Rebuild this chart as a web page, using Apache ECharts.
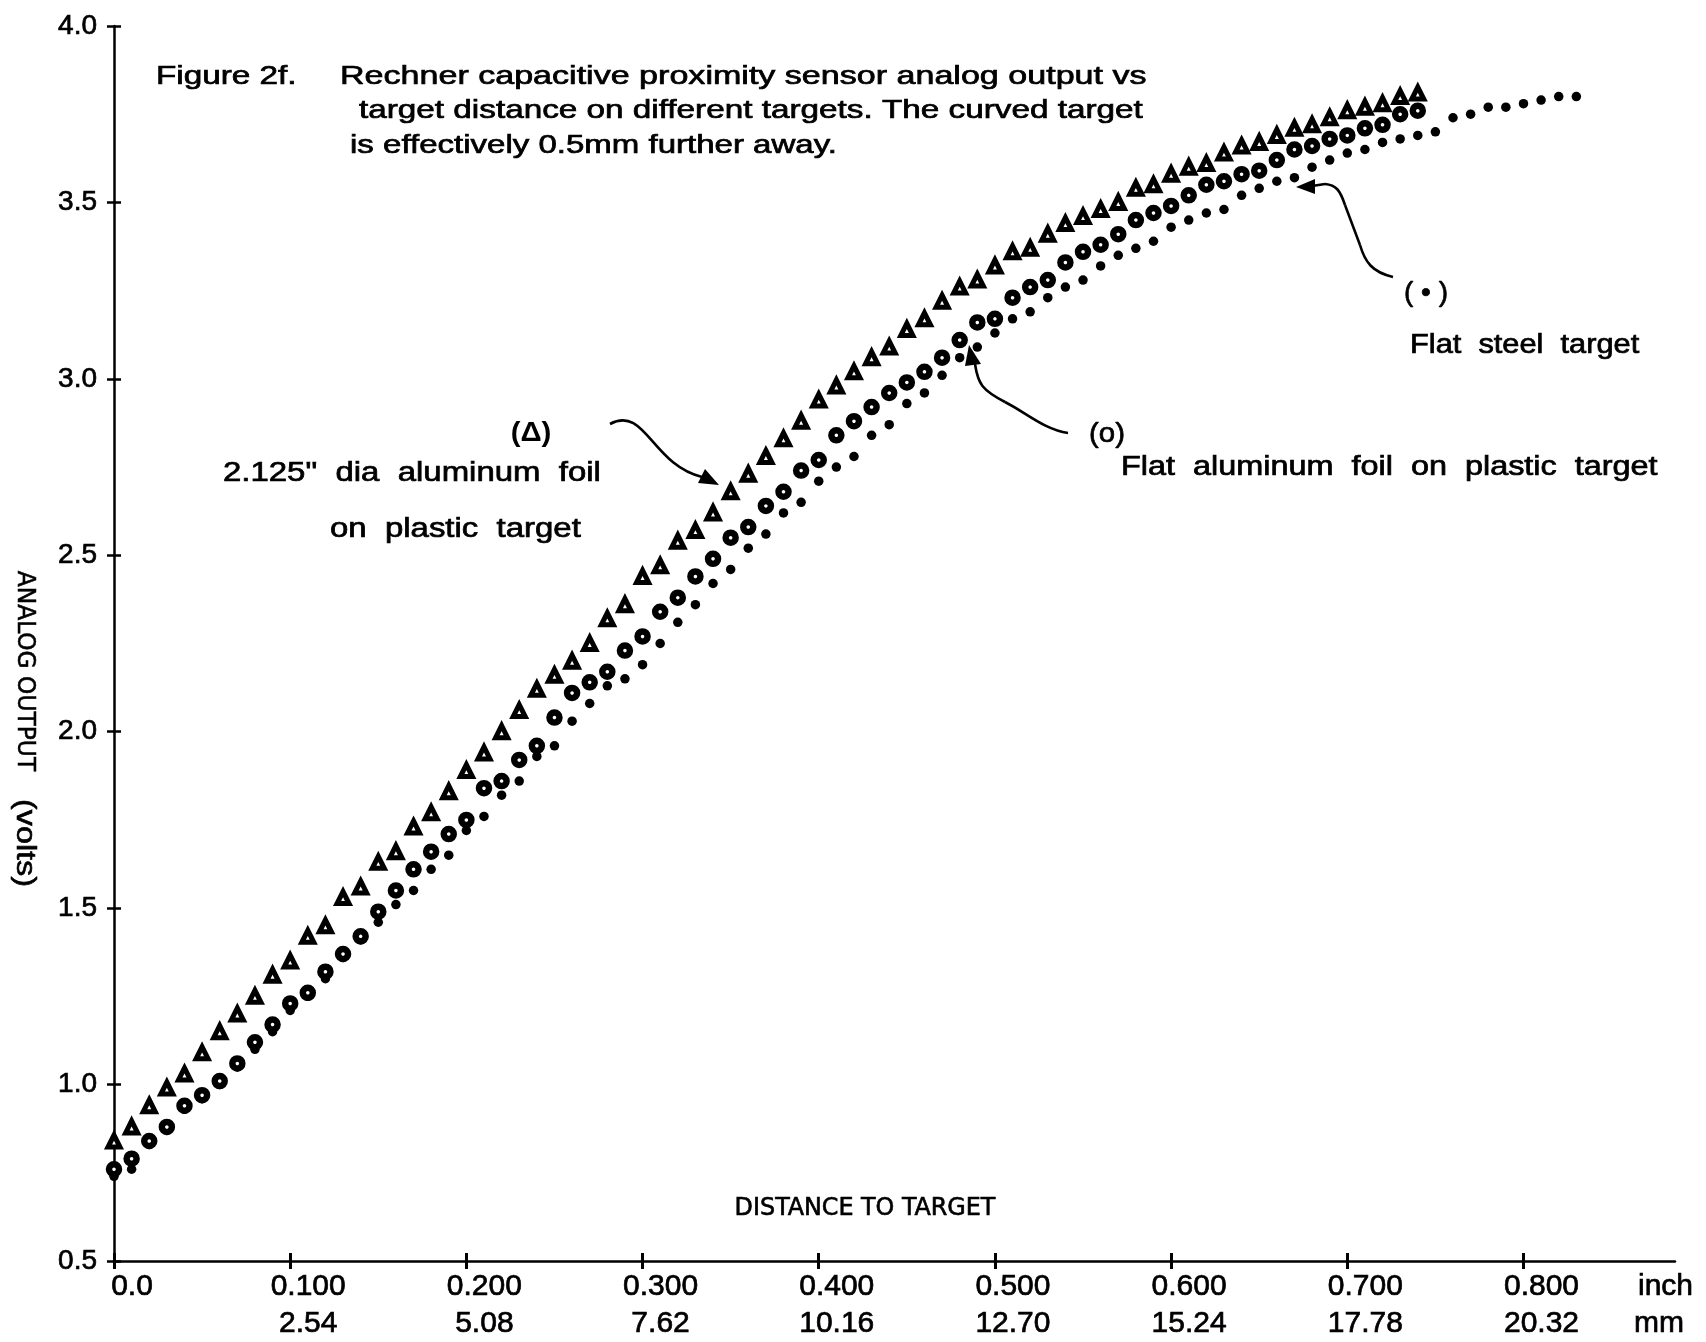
<!DOCTYPE html>
<html><head><meta charset="utf-8">
<script src="https://cdn.jsdelivr.net/npm/echarts@6/dist/echarts.min.js"></script>
<style>html,body{margin:0;padding:0;background:#fff}#c{width:1706px;height:1342px}</style>
</head><body><div id="c"></div>
<script>
// Distance to target (inch) for each reading
const distanceInch = [
 0.00,0.01,0.02,0.03,0.04,0.05,0.06,0.07,0.08,0.09,
 0.10,0.11,0.12,0.13,0.14,0.15,0.16,0.17,0.18,0.19,
 0.20,0.21,0.22,0.23,0.24,0.25,0.26,0.27,0.28,0.29,
 0.30,0.31,0.32,0.33,0.34,0.35,0.36,0.37,0.38,0.39,
 0.40,0.41,0.42,0.43,0.44,0.45,0.46,0.47,0.48,0.49,
 0.50,0.51,0.52,0.53,0.54,0.55,0.56,0.57,0.58,0.59,
 0.60,0.61,0.62,0.63,0.64,0.65,0.66,0.67,0.68,0.69,
 0.70,0.71,0.72,0.73,0.74,0.75,0.76,0.77,0.78,0.79,
 0.80,0.81,0.82,0.83
];
// (Δ) 2.125" dia aluminum foil on plastic target
const curvedFoil = [
 0.84,0.88,0.94,0.99,1.03,1.09,1.15,1.20,1.25,1.31,
 1.35,1.42,1.45,1.53,1.56,1.63,1.66,1.73,1.77,1.83,
 1.89,1.94,2.00,2.06,2.12,2.16,2.20,2.25,2.32,2.36,
 2.44,2.47,2.54,2.57,2.62,2.68,2.73,2.78,2.83,2.88,
 2.94,2.98,3.02,3.06,3.09,3.14,3.17,3.22,3.26,3.28,
 3.32,3.36,3.37,3.41,3.44,3.46,3.48,3.50,3.54,3.55,
 3.58,3.60,3.61,3.64,3.66,3.67,3.69,3.71,3.72,3.74,
 3.76,3.77,3.78,3.80,3.81
];
// (o) Flat aluminum foil on plastic target
const flatFoil = [
 0.76,0.79,0.84,0.88,0.94,0.97,1.01,1.06,1.12,1.17,
 1.23,1.26,1.32,1.37,1.42,1.49,1.55,1.61,1.66,1.71,
 1.75,1.84,1.86,1.92,1.96,2.04,2.11,2.14,2.17,2.23,
 2.27,2.34,2.38,2.44,2.49,2.55,2.58,2.64,2.68,2.74,
 2.77,2.84,2.88,2.92,2.96,2.99,3.02,3.06,3.11,3.16,
 3.17,3.23,3.26,3.28,3.33,3.36,3.38,3.41,3.45,3.47,
 3.49,3.52,3.55,3.56,3.58,3.59,3.62,3.65,3.66,3.68,
 3.69,3.71,3.72,3.75,3.76
];
// (·) Flat steel target
const flatSteel = [
 0.74,0.76,0.83,0.87,0.93,0.96,1.00,1.05,1.10,1.15,
 1.21,1.25,1.30,1.36,1.41,1.46,1.51,1.55,1.61,1.65,
 1.72,1.76,1.82,1.86,1.93,1.96,2.03,2.08,2.13,2.15,
 2.19,2.25,2.31,2.36,2.42,2.46,2.52,2.56,2.62,2.65,
 2.71,2.75,2.78,2.84,2.87,2.93,2.96,3.01,3.06,3.09,
 3.13,3.17,3.19,3.23,3.26,3.28,3.32,3.35,3.37,3.39,
 3.43,3.45,3.47,3.48,3.52,3.54,3.56,3.57,3.60,3.62,
 3.64,3.65,3.67,3.68,3.69,3.70,3.74,3.75,3.77,3.77,
 3.78,3.79,3.80,3.80
];
const xTickValues = [0,0.1,0.2,0.3,0.4,0.5,0.6,0.7,0.8];
const xTickInch = ['0.0','0.100','0.200','0.300','0.400','0.500','0.600','0.700','0.800'];
const xTickMm = ['','2.54','5.08','7.62','10.16','12.70','15.24','17.78','20.32'];
const yTickLabels = ['0.5','1.0','1.5','2.0','2.5','3.0','3.5','4.0'];

const FONT = '"Liberation Sans", Arial, Helvetica, sans-serif';
const NARROW = '"Liberation Sans Narrow", "DejaVu Sans Condensed", "Liberation Sans", sans-serif';

const pairs = arr => arr.map((v, i) => [distanceInch[i], v]);

function txt(text, x, y, size, align, sx, opts) {
  opts = opts || {};
  return {
    type: 'text', x: x, y: y, z: 10, scaleX: sx || 1, scaleY: 1,
    rotation: opts.rotation || 0,
    style: {
      text: text, fill: '#000', fontSize: size, fontFamily: opts.family || FONT,
      fontWeight: opts.weight || 'normal',
      stroke: '#000', lineWidth: opts.stroke == null ? 0.7 : opts.stroke,
      align: align || 'left', textAlign: align || 'left',
      verticalAlign: 'middle', textVerticalAlign: 'middle'
    }
  };
}
const lineStyle = { stroke: '#000', lineWidth: 2.6, fill: null };

const chart = echarts.init(document.getElementById('c'), null, { renderer: 'canvas' });
chart.setOption({
  backgroundColor: '#fff',
  animation: false,
  grid: { left: 114, right: 31, top: 26, bottom: 81, outerBoundsMode: 'none' },
  xAxis: [{
    type: 'value', min: 0, max: 0.886, interval: 0.1,
    splitLine: { show: false },
    axisLine: { show: true, onZero: false, lineStyle: { color: '#000', width: 2.5 } },
    axisTick: { show: true, length: 8, customValues: xTickValues, lineStyle: { color: '#000', width: 3 } },
    axisLabel: {
      customValues: xTickValues, margin: 7, padding: [0, 0, 0, 36],
      formatter: v => {
        const i = xTickValues.findIndex(t => Math.abs(t - v) < 1e-6);
        if (i < 0) return '';
        return '{a|' + xTickInch[i] + '}' + (xTickMm[i] ? '\n{a|' + xTickMm[i] + '}' : '');
      },
      rich: { a: { fontSize: 30, fontFamily: FONT, color: '#000', lineHeight: 37, textBorderColor: '#000', textBorderWidth: 0.7 } }
    }
  }, {
    type: 'value', min: 0, max: 0.886, interval: 0.1, position: 'bottom',
    splitLine: { show: false }, axisLine: { show: false }, axisLabel: { show: false },
    axisTick: { show: true, inside: true, length: 8, customValues: xTickValues, lineStyle: { color: '#000', width: 3 } }
  }],
  yAxis: [{
    type: 'value', min: 0.5, max: 4.0, interval: 0.5,
    splitLine: { show: false },
    axisLine: { show: true, onZero: false, lineStyle: { color: '#000', width: 2.5 } },
    axisTick: { show: true, length: 7, lineStyle: { color: '#000', width: 2.5 } },
    axisLabel: {
      margin: 17, fontSize: 28, fontFamily: FONT, color: '#000',
      textBorderColor: '#000', textBorderWidth: 0.7,
      formatter: v => yTickLabels[Math.round((v - 0.5) / 0.5)] || ''
    }
  }, {
    type: 'value', min: 0.5, max: 4.0, interval: 0.5, position: 'left',
    splitLine: { show: false }, axisLine: { show: false }, axisLabel: { show: false },
    axisTick: { show: true, inside: true, length: 7, lineStyle: { color: '#000', width: 2.5 } }
  }],
  series: [{
    name: 'Flat steel target', type: 'scatter', xAxisIndex: 0, yAxisIndex: 0,
    symbol: 'circle', symbolSize: 9.5,
    itemStyle: { color: '#000', opacity: 1 },
    data: pairs(flatSteel), z: 3
  }, {
    name: 'Flat aluminum foil on plastic target', type: 'scatter', xAxisIndex: 0, yAxisIndex: 0,
    symbol: 'circle', symbolSize: 10,
    itemStyle: { color: '#fff', borderColor: '#000', borderWidth: 6.5, opacity: 1 },
    data: pairs(flatFoil), z: 4
  }, {
    name: '2.125" dia aluminum foil on plastic target', type: 'scatter', xAxisIndex: 0, yAxisIndex: 0,
    symbol: 'triangle', symbolSize: 12,
    itemStyle: { color: '#fff', borderColor: '#000', borderWidth: 5, opacity: 1 },
    data: pairs(curvedFoil), z: 5
  }],
  graphic: [
    txt('Figure 2f.', 156, 77, 26, 'left', 1.28),
    txt('Rechner capacitive proximity sensor analog output vs', 340, 77, 26, 'left', 1.31),
    txt('target distance on different targets. The curved target', 359, 111, 26, 'left', 1.28),
    txt('is effectively 0.5mm further away.', 350, 146, 26, 'left', 1.27),

    txt('(Δ)', 531, 433, 28, 'center', 1.05, { weight: 'bold', stroke: 0 }),
    txt('2.125"  dia  aluminum  foil', 223, 474, 27, 'left', 1.22),
    txt('on  plastic  target', 330, 530, 27, 'left', 1.22),
    { type: 'bezierCurve', z: 10, shape: { x1: 610, y1: 424, cpx1: 645, cpy1: 405, cpx2: 652, cpy2: 465, x2: 702, y2: 477 }, style: lineStyle },
    { type: 'polygon', z: 10, shape: { points: [[719, 485], [698, 483], [705, 469]] }, style: { fill: '#000' } },

    txt('(o)', 1107, 434, 28, 'center', 1.05),
    txt('Flat  aluminum  foil  on  plastic  target', 1121, 468, 27, 'left', 1.2),
    { type: 'bezierCurve', z: 10, shape: { x1: 1068, y1: 433, cpx1: 1045, cpy1: 430, cpx2: 1025, cpy2: 412, x2: 1005, y2: 402 }, style: lineStyle },
    { type: 'bezierCurve', z: 10, shape: { x1: 1005, y1: 402, cpx1: 982, cpy1: 390, cpx2: 978, cpy2: 384, x2: 975, y2: 364 }, style: lineStyle },
    { type: 'polygon', z: 10, shape: { points: [[969, 345], [981, 364], [965, 366]] }, style: { fill: '#000' } },

    txt('( • )', 1426, 293, 28, 'center', 1.0),
    txt('Flat  steel  target', 1410, 346, 27, 'left', 1.14),
    { type: 'bezierCurve', z: 10, shape: { x1: 1393, y1: 277, cpx1: 1372, cpy1: 272, cpx2: 1365, cpy2: 262, x2: 1360, y2: 245 }, style: lineStyle },
    { type: 'line', z: 10, shape: { x1: 1360, y1: 245, x2: 1345, y2: 205 }, style: lineStyle },
    { type: 'bezierCurve', z: 10, shape: { x1: 1345, y1: 205, cpx1: 1340, cpy1: 190, cpx2: 1336, cpy2: 185, x2: 1325, y2: 184 }, style: lineStyle },
    { type: 'line', z: 10, shape: { x1: 1325, y1: 184, x2: 1312, y2: 186 }, style: lineStyle },
    { type: 'polygon', z: 10, shape: { points: [[1296, 187], [1315, 179], [1315, 194]] }, style: { fill: '#000' } },

    txt('DISTANCE TO TARGET', 865, 1208, 25, 'center', 1.06, { family: NARROW, stroke: 0.6 }),
    txt('inch', 1638, 1287, 30, 'left', 1),
    txt('mm', 1634, 1324, 30, 'left', 1),

    txt('ANALOG OUTPUT', 24, 671, 24, 'center', 1.08, { family: NARROW, rotation: -Math.PI / 2, stroke: 0.5 }),
    txt('(volts)', 24, 843, 27, 'center', 1.2, { rotation: -Math.PI / 2, stroke: 0.6 })
  ]
});
</script>
</body></html>
